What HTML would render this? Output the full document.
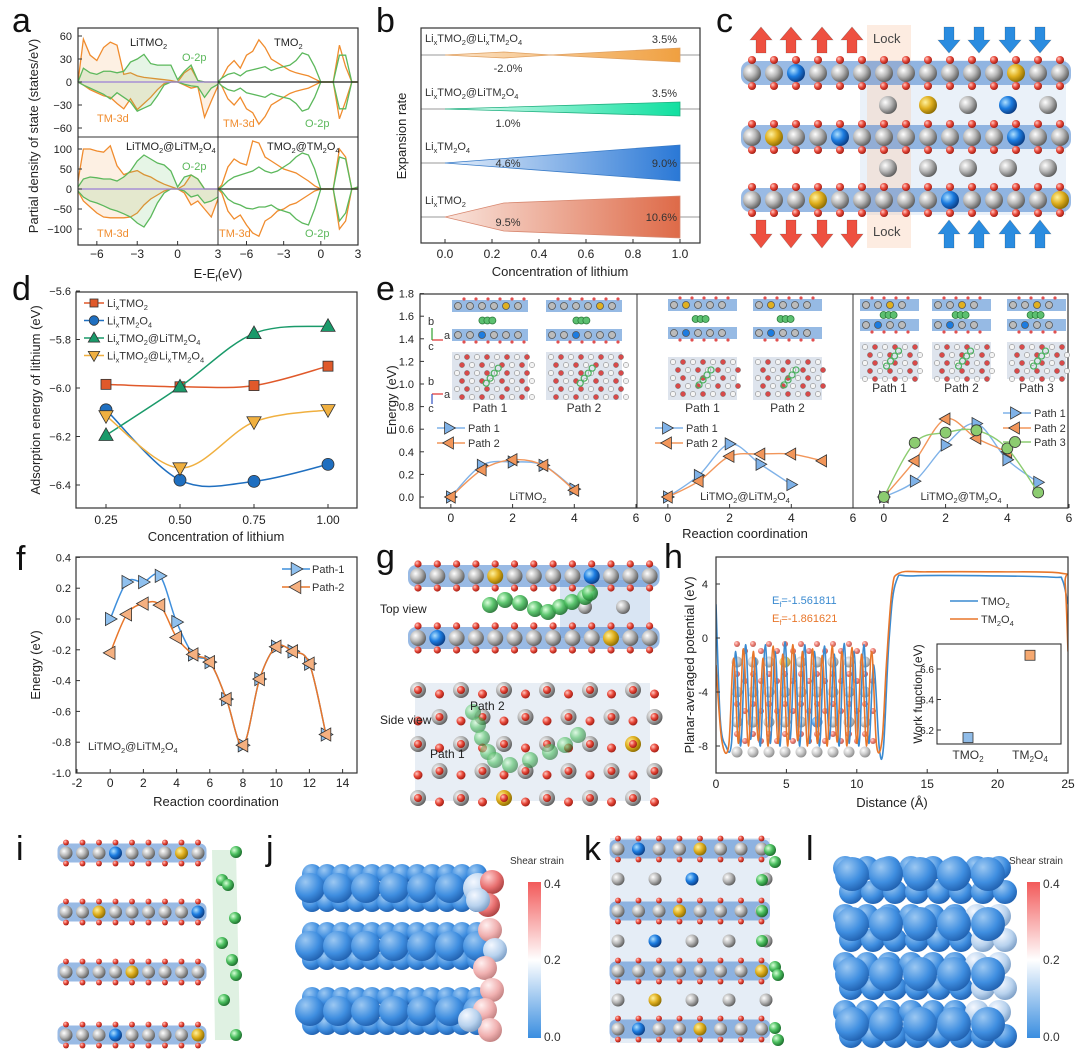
<!DOCTYPE html>
<html><head><meta charset="utf-8"><style>
html,body{margin:0;padding:0;background:#fff;}
svg{display:block;font-family:"Liberation Sans",sans-serif;}
</style></head><body>
<svg id="fig" width="1080" height="1062" viewBox="0 0 1080 1062" xmlns="http://www.w3.org/2000/svg">
<defs>
<radialGradient id="g_grey" cx="35%" cy="35%" r="70%"><stop offset="0" stop-color="#ffffff"/><stop offset="0.5" stop-color="#b8b8b8"/><stop offset="1" stop-color="#5a5a5a"/></radialGradient>
<radialGradient id="g_red" cx="35%" cy="35%" r="70%"><stop offset="0" stop-color="#ffc8c0"/><stop offset="0.5" stop-color="#e8483a"/><stop offset="1" stop-color="#9a1a10"/></radialGradient>
<radialGradient id="g_blue" cx="35%" cy="35%" r="70%"><stop offset="0" stop-color="#aee0ff"/><stop offset="0.5" stop-color="#1c7ce0"/><stop offset="1" stop-color="#0a3a80"/></radialGradient>
<radialGradient id="g_yellow" cx="35%" cy="35%" r="70%"><stop offset="0" stop-color="#fff2a0"/><stop offset="0.5" stop-color="#e0b020"/><stop offset="1" stop-color="#8a6a00"/></radialGradient>
<radialGradient id="g_green" cx="35%" cy="35%" r="70%"><stop offset="0" stop-color="#d8ffd8"/><stop offset="0.5" stop-color="#4cc060"/><stop offset="1" stop-color="#1a6a2a"/></radialGradient>
<radialGradient id="g_sb" cx="35%" cy="30%" r="75%"><stop offset="0" stop-color="#9cc8f2"/><stop offset="0.6" stop-color="#3f8ee0"/><stop offset="1" stop-color="#1f5fae"/></radialGradient>
<radialGradient id="g_sl" cx="35%" cy="30%" r="75%"><stop offset="0" stop-color="#f4f8ff"/><stop offset="0.6" stop-color="#b8d2ee"/><stop offset="1" stop-color="#7a9cc4"/></radialGradient>
<radialGradient id="g_sr" cx="35%" cy="30%" r="75%"><stop offset="0" stop-color="#ffd0d0"/><stop offset="0.6" stop-color="#e87070"/><stop offset="1" stop-color="#a84040"/></radialGradient>
<radialGradient id="g_sp" cx="35%" cy="30%" r="75%"><stop offset="0" stop-color="#fff0f0"/><stop offset="0.6" stop-color="#f0b0b0"/><stop offset="1" stop-color="#c08080"/></radialGradient>
<linearGradient id="b_or" x1="0" x2="1"><stop offset="0" stop-color="#fbe3c8"/><stop offset="1" stop-color="#f0a040"/></linearGradient>
<linearGradient id="b_gr" x1="0" x2="1"><stop offset="0" stop-color="#e0faf0"/><stop offset="1" stop-color="#10e0a0"/></linearGradient>
<linearGradient id="b_bl" x1="0" x2="1"><stop offset="0" stop-color="#e4eefa"/><stop offset="1" stop-color="#2a78d6"/></linearGradient>
<linearGradient id="b_rd" x1="0" x2="1"><stop offset="0" stop-color="#f9e4dc"/><stop offset="1" stop-color="#de6a48"/></linearGradient>
<linearGradient id="cbar" x1="0" x2="0" y1="0" y2="1"><stop offset="0" stop-color="#f25a5a"/><stop offset="0.5" stop-color="#ffffff"/><stop offset="1" stop-color="#3a8ee0"/></linearGradient>
<clipPath id="clipH"><rect x="716" y="557" width="352" height="216"/></clipPath>
</defs>
<g id="letters" font-size="34" fill="#111">
<text x="12" y="32">a</text>
<text x="376" y="32">b</text>
<text x="716" y="32">c</text>
<text x="12" y="300">d</text>
<text x="376" y="300">e</text>
<text x="16" y="570">f</text>
<text x="376" y="568">g</text>
<text x="664" y="568">h</text>
<text x="16" y="860">i</text>
<text x="266" y="860">j</text>
<text x="584" y="860">k</text>
<text x="806" y="860">l</text>
</g>
<g id="pa"></g>
<g id="pb"></g>
<g id="pc"></g>
<g id="pd"></g>
<g id="pe"></g>
<g id="pf"></g>
<g id="pg"></g>
<g id="ph"></g>
<g id="pi"></g>
<g id="pj"></g>
<g id="pk"></g>
<g id="pl"></g>
</svg>
<script>
// ---------- data ----------
const aXL=[-7.4,-7,-6.5,-6,-5.5,-5,-4.5,-4,-3.5,-3,-2.5,-2,-1.5,-1,-0.5,0,0.5,1,1.5,2,2.5,3];
const aXR=[-8.3,-8,-7.5,-7,-6.5,-6,-5.5,-5,-4.5,-4,-3.5,-3,-2.5,-2,-1.5,-1,-0.5,0,0.5,1,1.5,2,2.5,3];
const a1UpTM=[0,56,35,28,45,52,48,10,12,8,6,5,4,3,2,0,12,18,2,0,0,0];
const a1UpO=[0,18,12,10,14,14,12,14,26,30,36,24,22,22,22,3,14,22,2,0,0,0];
const a1DnTM=[0,-4,-10,-14,-18,-20,-28,-35,-22,-36,-28,-20,-10,-2,0,0,-4,-8,-6,-46,-25,-5];
const a1DnO=[0,-4,-8,-12,-16,-22,-14,-20,-26,-38,-34,-30,-18,-4,0,0,-3,-5,-6,-20,-8,-3];
const a2UpTM=[0,5,20,28,18,35,40,55,45,30,25,20,15,12,10,8,4,0,0,0,48,20,0,0];
const a2UpO=[0,5,10,12,8,14,16,18,20,15,18,20,22,28,38,35,20,0,0,0,35,35,0,0];
const a2DnTM=[0,-5,-22,-30,-20,-35,-40,-55,-45,-30,-25,-20,-15,-12,-10,-8,-4,0,0,0,-48,-25,0,0];
const a2DnO=[0,-5,-10,-12,-8,-14,-16,-18,-20,-15,-18,-20,-22,-28,-38,-35,-20,0,0,0,-35,-35,0,0];
const a3UpTM=[20,100,100,95,92,108,58,36,42,46,36,30,20,12,6,0,10,35,25,0,0,0];
const a3UpO=[5,25,30,28,25,25,20,30,45,70,85,75,65,60,45,5,30,35,25,0,0,0];
const a3DnTM=[-5,-30,-45,-60,-70,-72,-72,-72,-70,-60,-40,-25,-15,-5,0,0,-10,-40,-30,-50,-70,-25];
const a3DnO=[-5,-20,-30,-35,-42,-50,-55,-62,-70,-85,-95,-70,-35,-10,0,0,-5,-20,-15,-35,-30,-20];
const a4UpTM=[0,10,55,75,65,60,120,115,80,70,60,50,45,40,30,20,8,0,0,0,100,80,0,5];
const a4UpO=[0,5,20,30,35,40,45,55,45,40,45,55,65,80,90,85,50,0,0,0,80,75,0,5];
const a4DnTM=[0,-10,-55,-75,-65,-90,-110,-118,-80,-70,-55,-50,-40,-35,-25,-15,-5,0,0,0,-100,-80,0,0];
const a4DnO=[0,-5,-25,-35,-40,-48,-50,-45,-45,-40,-50,-55,-60,-75,-85,-90,-50,0,0,0,-80,-60,0,0];
const bRows=["Li_xTMO_2@Li_xTM_2O_4","Li_xTMO_2@LiTM_2O_4","Li_xTM_2O_4","Li_xTMO_2"];
const bConc=[[0,0.25,0.45,1],[0,1],[0,1],[0,0.25,1]];
const bHalf=[[0,3,0,7],[0,7],[0,18],[0,14,21]];
const bLow=["-2.0%","1.0%","4.6%","9.5%"];
const bHigh=["3.5%","3.5%","9.0%","10.6%"];
const bTicks=[0,0.2,0.4,0.6,0.8,1.0];
const dConc=[0.25,0.5,0.75,1.0];
const dTMO2=[-5.985,-5.995,-5.99,-5.91];
const dTM2O4=[-6.09,-6.38,-6.385,-6.315];
const dAtLi=[-6.195,-5.995,-5.775,-5.745];
const dAtLix=[-6.115,-6.33,-6.14,-6.09];
const dYTicks=[-5.6,-5.8,-6.0,-6.2,-6.4];
const e1P1=[0,0.28,0.31,0.28,0.07];
const e1P2=[0,0.24,0.33,0.28,0.06];
const e2P1=[0,0.19,0.47,0.29,0.11];
const e2P2=[0,0.14,0.36,0.38,0.38,0.32];
const e3P1=[0,0.14,0.46,0.65,0.33,0.13];
const e3P2=[0,0.32,0.69,0.52,0.40];
const e3P3=[0,0.48,0.57,0.59,0.43,0.04];
const eYTicks=[0,0.2,0.4,0.6,0.8,1.0,1.2,1.4,1.6,1.8];
const fP1=[0,0.24,0.24,0.28,-0.02,-0.23,-0.28,-0.52,-0.82,-0.39,-0.18,-0.21,-0.29,-0.75];
const fP2=[-0.22,0.03,0.10,0.09,-0.12,-0.23,-0.28,-0.52,-0.82,-0.39,-0.18,-0.21,-0.29,-0.75];
const fYTicks=[0.4,0.2,0,-0.2,-0.4,-0.6,-0.8,-1.0];
const fXTicks=[-2,0,2,4,6,8,10,12,14];
const hxB=[0,0.3,0.7,1.1,1.4,1.75,2.1,2.45,2.8,3.15,3.5,3.85,4.2,4.55,4.9,5.25,5.6,5.95,6.3,6.65,7.0,7.35,7.7,8.05,8.4,8.75,9.1,9.45,9.8,10.15,10.5,10.85,11.2,11.6,11.9,12.3,12.8,14,20,24,24.6,25];
const hyB=[2.5,-6,-8,-7.8,-1,-8,-0.5,-7.5,-1.5,-8,-0.5,-7.8,-1,-8,-0.3,-7.5,-1.2,-8,-0.5,-7.8,-1,-8,-0.6,-7.5,-1.2,-8,-0.4,-7.8,-1,-8,-0.5,-7.8,-2,-8.2,-8,0,4.2,4.6,4.6,4.5,4.3,2.5];
const hxO=[0,0.4,0.9,1.25,1.6,1.95,2.3,2.65,3.0,3.35,3.7,4.05,4.4,4.75,5.1,5.45,5.8,6.15,6.5,6.85,7.2,7.55,7.9,8.25,8.6,8.95,9.3,9.65,10.0,10.35,10.7,11.05,11.4,11.8,12.1,12.5,13,15,20,24.5,24.8,25];
const hyO=[-2,-7.5,-8,-1.5,-7.8,-0.8,-8,-1,-7.6,-1.5,-8,-0.6,-7.8,-1.2,-8,-0.5,-7.6,-1,-8,-0.8,-7.8,-1.3,-8,-0.6,-7.7,-1,-8,-0.7,-7.8,-1.2,-8,-1,-7.9,-7.5,-2,3.5,4.8,4.9,4.9,4.8,4,-1];
const hCats=["TMO_2","TM_2O_4"];
const hWork=[6.15,6.69];

// ---------- helpers ----------
const NS='http://www.w3.org/2000/svg';
function mk(t,a,p){const e=document.createElementNS(NS,t);for(const k in a)e.setAttribute(k,a[k]);p.appendChild(e);return e;}
function lbl(s,x,y,size,fill,anchor,p,rot){
  const t=mk('text',{x:x,y:y,'font-size':size,fill:fill||'#222','text-anchor':anchor||'start'},p);
  if(rot)t.setAttribute('transform','rotate('+rot+' '+x+' '+y+')');
  let i=0,buf='';
  const flush=()=>{if(buf){const s1=mk('tspan',{},t);s1.textContent=buf;buf='';}};
  while(i<s.length){
    if(s[i]==='_'&&i+1<s.length){flush();const sb=mk('tspan',{'font-size':size*0.68,dy:size*0.25},t);sb.textContent=s[i+1];const bk=mk('tspan',{dy:-size*0.25},t);bk.textContent='\u200b';i+=2;}
    else{buf+=s[i];i++;}
  }
  flush();
  
  
  return t;
}
function smooth(pts){
  let d='M'+pts[0][0]+','+pts[0][1];
  for(let i=0;i<pts.length-1;i++){
    const p0=pts[i-1]||pts[i],p1=pts[i],p2=pts[i+1],p3=pts[i+2]||p2;
    const c1=[p1[0]+(p2[0]-p0[0])/6,p1[1]+(p2[1]-p0[1])/6];
    const c2=[p2[0]-(p3[0]-p1[0])/6,p2[1]-(p3[1]-p1[1])/6];
    d+=' C'+c1[0]+','+c1[1]+' '+c2[0]+','+c2[1]+' '+p2[0]+','+p2[1];
  }
  return d;
}
function ball(x,y,r,col,p){
  const c=mk('circle',{cx:x,cy:y,r:r,fill:'url(#g_'+col+')'},p);
  
  
  return c;
}
function marker(type,x,y,s,fill,p){
  let e;
  if(type==='sq')e=mk('rect',{x:x-s,y:y-s,width:2*s,height:2*s},p);
  else if(type==='ci')e=mk('circle',{cx:x,cy:y,r:s},p);
  else{
    let pts;
    if(type==='up')pts=[[x,y-s*1.15],[x+s*1.1,y+s*0.8],[x-s*1.1,y+s*0.8]];
    if(type==='dn')pts=[[x,y+s*1.15],[x+s*1.1,y-s*0.8],[x-s*1.1,y-s*0.8]];
    if(type==='rt')pts=[[x+s*1.15,y],[x-s*0.8,y-s*1.1],[x-s*0.8,y+s*1.1]];
    if(type==='lt')pts=[[x-s*1.15,y],[x+s*0.8,y-s*1.1],[x+s*0.8,y+s*1.1]];
    e=mk('polygon',{points:pts.map(q=>q.join(',')).join(' ')},p);
  }
  e.setAttribute('fill',fill);e.setAttribute('stroke','#333');e.setAttribute('stroke-width','0.8');
  
  
  return e;
}
function tick(x1,y1,x2,y2,p){const l=mk('line',{x1:x1,y1:y1,x2:x2,y2:y2,stroke:'#333','stroke-width':1},p);return l;}
function frame(x,y,w,h,p){const r=mk('rect',{x:x,y:y,width:w,height:h,fill:'none',stroke:'#333','stroke-width':1.2},p);return r;}
function layer(x0,n,dx,y,r,p,special,bandCol){
  const b=mk('rect',{x:x0-r-2,y:y-r-3,width:(n-1)*dx+2*r+4,height:2*r+6,rx:r,fill:bandCol||'rgba(70,130,205,0.55)'},p);
  
  
  for(let i=0;i<n;i++){ball(x0+i*dx,y-r-4,r*0.45,'red',p);ball(x0+i*dx,y+r+4,r*0.45,'red',p);}
  for(let i=0;i<n;i++){ball(x0+i*dx,y,r,(special&&special[i])||'grey',p);}
}

// ---------- panel a ----------
(function(){
  const g=document.getElementById('pa');
  const XL=v=>78+(v+7.4)/10.4*140, XR=v=>218+(v+8.3)/11.3*140;
  const YT=v=>82-v*23/30, YB=v=>189-v*20/50;
  const subs=[[XL,YT,aXL,a1UpTM,a1UpO,a1DnTM,a1DnO,'#9b7fd6',true],[XR,YT,aXR,a2UpTM,a2UpO,a2DnTM,a2DnO,'#222',false],[XL,YB,aXL,a3UpTM,a3UpO,a3DnTM,a3DnO,'#9b7fd6',true],[XR,YB,aXR,a4UpTM,a4UpO,a4DnTM,a4DnO,'#222',false]];
  subs.forEach(s=>{
    const [X,Y,xs]=s;
    [[s[3],'#f08c2e','rgba(245,160,80,0.16)'],[s[4],'#5cb85c','rgba(100,190,100,0.16)'],[s[5],'#f08c2e','rgba(245,160,80,0.16)'],[s[6],'#5cb85c','rgba(100,190,100,0.16)']].forEach(c=>{
      const pts=xs.map((v,i)=>X(v)+','+Y(c[0][i]));
      if(s[8]){
        const ar=mk('polygon',{points:X(xs[0])+','+Y(0)+' '+pts.join(' ')+' '+X(xs[xs.length-1])+','+Y(0),fill:c[2]},g);
        
        
      }
      const pl=mk('polyline',{points:pts.join(' '),fill:'none',stroke:c[1],'stroke-width':1.3},g);
      
      
    });
    const z=mk('line',{x1:X(xs[0]),x2:X(3),y1:Y(0),y2:Y(0),stroke:s[7],'stroke-width':1.2},g);
    
    
  });
  frame(78,28,280,217,g);
  tick(218,28,218,245,g);tick(78,137,358,137,g);
  [60,30,0,-30,-60].forEach(v=>{tick(78,YT(v),82,YT(v),g);lbl(v<0?'\u2212'+(-v):''+v,72,YT(v)+4,11,'#222','end',g);});
  [100,50,0,-50,-100].forEach(v=>{tick(78,YB(v),82,YB(v),g);lbl(v<0?'\u2212'+(-v):''+v,72,YB(v)+4,11,'#222','end',g);});
  [-6,-3,0,3].forEach(v=>{tick(XL(v),245,XL(v),241,g);lbl(v<0?'\u2212'+(-v):''+v,XL(v),258,12,'#222','middle',g);});
  [-6,-3,0,3].forEach(v=>{tick(XR(v),245,XR(v),241,g);lbl(v<0?'\u2212'+(-v):''+v,XR(v),258,12,'#222','middle',g);});
  lbl('E-E_f(eV)',218,278,13,'#222','middle',g);
  lbl('Partial density of state (states/eV)',38,136,13,'#222','middle',g,-90);
  lbl('LiTMO_2',130,46,11,'#222','start',g);
  lbl('O-2p',182,61,11,'#5cb85c','start',g);
  lbl('TM-3d',97,122,11,'#f08c2e','start',g);
  lbl('TMO_2',274,46,11,'#222','start',g);
  lbl('TM-3d',223,127,11,'#f08c2e','start',g);
  lbl('O-2p',305,127,11,'#5cb85c','start',g);
  lbl('LiTMO_2@LiTM_2O_4',126,150,11,'#222','start',g);
  lbl('O-2p',182,170,11,'#5cb85c','start',g);
  lbl('TM-3d',97,237,11,'#f08c2e','start',g);
  lbl('TMO_2@TM_2O_4',267,150,11,'#222','start',g);
  lbl('TM-3d',219,237,11,'#f08c2e','start',g);
  lbl('O-2p',305,237,11,'#5cb85c','start',g);
})();

// ---------- panel b ----------
(function(){
  const g=document.getElementById('pb');
  const X=v=>445+v*235;
  const cy=[55,109,163,217];
  const fills=['url(#b_or)','url(#b_gr)','url(#b_bl)','url(#b_rd)'];
  const strokes=['#e0a060','#20b080','#3a7cc8','#d88870'];
  bRows.forEach((name,r)=>{
    const l=mk('line',{x1:421,x2:700,y1:cy[r],y2:cy[r],stroke:'#999','stroke-width':1},g);
    
    
    const top=bConc[r].map((c,i)=>X(c)+','+(cy[r]-bHalf[r][i]));
    const bot=bConc[r].map((c,i)=>X(c)+','+(cy[r]+bHalf[r][i])).reverse();
    const pg=mk('polygon',{points:top.concat(bot).join(' '),fill:fills[r],stroke:strokes[r],'stroke-width':0.8},g);
    
    
    lbl(name,425,cy[r]-13,11,'#333','start',g);
    lbl(bHigh[r],677,cy[r]-(r>1?-4:12),11,'#333','end',g);
    lbl(bLow[r],508,cy[r]+(r===0?17:r===1?18:r===2?4:9),11,'#333','middle',g);
  });
  frame(421,28,279,215,g);
  bTicks.forEach(v=>{tick(X(v),243,X(v),239,g);lbl(v.toFixed(1),X(v),258,12,'#222','middle',g);});
  lbl('Concentration of lithium',560,276,13,'#222','middle',g);
  lbl('Expansion rate',406,136,13,'#222','middle',g,-90);
})();

// ---------- panel c ----------
(function(){
  const g=document.getElementById('pc');
  mk('rect',{x:860,y:60,width:206,height:155,fill:'rgba(170,200,230,0.25)'},g);
  const lk=mk('rect',{x:867,y:25,width:44,height:223,fill:'rgba(250,200,170,0.35)'},g);
  
  
  const sp=[null,null,'blue',null,null,null,null,null,null,null,null,null,'yellow',null,null];
  layer(752,15,22,73,9,g,sp);
  layer(752,15,22,137,9,g,[null,'yellow',null,null,'blue',null,null,null,null,null,null,null,'blue']);
  layer(752,15,22,200,9,g,[null,null,null,'yellow',null,null,null,null,null,'blue',null,null,null,null,'yellow']);
  const mid1=['grey','yellow','grey','blue','grey'],mid2=['grey','grey','grey','grey','grey'];
  mid1.forEach((c,i)=>ball(888+i*40,105,9,c,g));
  mid2.forEach((c,i)=>ball(888+i*40,168,9,c,g));
  function arrow(x,y0,y1,col){
    const d=y1>y0?1:-1;const L=Math.abs(y1-y0);
    const pts=[[x-5,y0],[x+5,y0],[x+5,y0+d*L*0.5],[x+11,y0+d*L*0.5],[x,y1],[x-11,y0+d*L*0.5],[x-5,y0+d*L*0.5]];
    const a=mk('polygon',{points:pts.map(q=>q.join(',')).join(' '),fill:col,stroke:'rgba(0,0,0,0.25)','stroke-width':0.6},g);
    
    
  }
  [761,791,822,852].forEach(x=>{arrow(x,53,27,'#ee5040');arrow(x,220,248,'#ee5040');});
  [949,979,1010,1040].forEach(x=>{arrow(x,27,53,'#2a8ce0');arrow(x,248,220,'#2a8ce0');});
  lbl('Lock',873,43,13,'#444','start',g);
  lbl('Lock',873,236,13,'#444','start',g);
})();

// ---------- panel d ----------
(function(){
  const g=document.getElementById('pd');
  const X=v=>106+(v-0.25)*296, Y=v=>388-(v+6.0)*242.5;
  frame(76,292,281,216,g);
  dYTicks.forEach(v=>{tick(76,Y(v),80,Y(v),g);lbl('\u2212'+(-v).toFixed(1),71,Y(v)+4,11,'#222','end',g);});
  dConc.forEach(v=>{tick(X(v),508,X(v),504,g);lbl(v.toFixed(2),X(v),524,12,'#222','middle',g);});
  lbl('Concentration of lithium',216,541,13,'#222','middle',g);
  lbl('Adsorption energy of lithium (eV)',40,400,13,'#222','middle',g,-90);
  const ser=[[dTMO2,'#e0592a','sq','Li_xTMO_2',5],[dTM2O4,'#1f6fc0','ci','Li_xTM_2O_4',6],[dAtLi,'#1a9a6a','up','Li_xTMO_2@LiTM_2O_4',6.5],[dAtLix,'#f0b040','dn','Li_xTMO_2@Li_xTM_2O_4',6.5]];
  ser.forEach((s,k)=>{
    const pts=dConc.map((c,i)=>[X(c),Y(s[0][i])]);
    const p=mk('path',{d:smooth(pts),fill:'none',stroke:s[1],'stroke-width':1.5},g);
    
    
    pts.forEach(q=>marker(s[2],q[0],q[1],s[4],s[1],g));
    const ly=303+k*17.5;
    const ll=mk('line',{x1:84,x2:104,y1:ly,y2:ly,stroke:s[1],'stroke-width':1.5},g);
    
    
    marker(s[2],94,ly,s[4]*0.8,s[1],g);
    lbl(s[3],107,ly+4,11,'#333','start',g);
  });
})();

// ---------- panel e ----------
(function(){
  const g=document.getElementById('pe');
  const lefts=[420,637,853];
  const Y=v=>497-v*113;
  frame(420,294,648,214,g);
  tick(637,294,637,508,g);tick(853,294,853,508,g);
  eYTicks.forEach(v=>{tick(420,Y(v),424,Y(v),g);lbl(v.toFixed(1),414,Y(v)+4,11,'#222','end',g);});
  const subsData=[[[e1P1,'#7fb2e8','rt','Path 1'],[e1P2,'#f2965a','lt','Path 2']],[[e2P1,'#7fb2e8','rt','Path 1'],[e2P2,'#f2965a','lt','Path 2']],[[e3P1,'#7fb2e8','rt','Path 1'],[e3P2,'#f2965a','lt','Path 2'],[e3P3,'#8ccc70','ci','Path 3']]];
  const titles=['LiTMO_2','LiTMO_2@LiTM_2O_4','LiTMO_2@TM_2O_4'];
  const legX=[437,655,1003],legY=[[428,443],[428,443],[413,428,442]];
  subsData.forEach((sd,k)=>{
    const X=v=>lefts[k]+(v+1)*30.86;
    [0,2,4,6].forEach(v=>{tick(X(v),508,X(v),504,g);lbl(''+v,X(v),522,12,'#222','middle',g);});
    sd.forEach((s,j)=>{
      const pts=s[0].map((v,i)=>[X(i),Y(v)]);
      const p=mk('path',{d:smooth(pts),fill:'none',stroke:s[1],'stroke-width':1.4},g);
      
      
      pts.forEach(q=>marker(s[2],q[0],q[1],5.5,s[1],g));
      const ly=legY[k][j];
      const ll=mk('line',{x1:legX[k],x2:legX[k]+28,y1:ly,y2:ly,stroke:s[1],'stroke-width':1.4},g);
      
      
      marker(s[2],legX[k]+12,ly,5.5,s[1],g);
      lbl(s[3],legX[k]+31,ly+4,11,'#333','start',g);
    });
    lbl(titles[k],lefts[k]+108,500,11,'#333','middle',g);
  });
  lbl('Reaction coordination',745,538,13,'#222','middle',g);
  lbl('Energy (eV)',396,400,13,'#222','middle',g,-90);
  function topView(x,y,w,h,ga,gb){
    mk('rect',{x:x,y:y+2,width:w,height:12,fill:'rgba(80,140,210,0.6)'},g);
    mk('rect',{x:x,y:y+h-14,width:w,height:12,fill:'rgba(80,140,210,0.6)'},g);
    const n=Math.floor(w/12);
    for(let i=0;i<n;i++){
      mk('circle',{cx:x+6+i*12,cy:y+8,r:3.5,fill:i===ga?'#e0b020':'#bbb',stroke:'#555','stroke-width':0.8},g);
      mk('circle',{cx:x+6+i*12,cy:y+h-8,r:3.5,fill:i===gb?'#1c7ce0':'#bbb',stroke:'#555','stroke-width':0.8},g);
      mk('circle',{cx:x+12+i*12,cy:y+1,r:1.6,fill:'#e05050'},g);
      mk('circle',{cx:x+12+i*12,cy:y+h-1,r:1.6,fill:'#e05050'},g);
    }
    for(let i=0;i<3;i++)mk('circle',{cx:x+w*0.4+i*5,cy:y+h/2,r:3.5,fill:'#5cc070',stroke:'#2a7a3a','stroke-width':0.8},g);
  }
  function sideView(x,y,w,h){
    mk('rect',{x:x,y:y,width:w,height:h,fill:'rgba(200,210,225,0.6)'},g);
    for(let r=0;r*8<h-4;r++)for(let c=0;c*10<w-4;c++){
      mk('circle',{cx:x+5+c*10+(r%2)*5,cy:y+5+r*8,r:2.6,fill:(r+c)%2?'#d84a4a':'#f4f4f4',stroke:'#777','stroke-width':0.5},g);
    }
    for(let i=0;i<4;i++)mk('circle',{cx:x+w*0.45+i*4,cy:y+h*0.65-i*5,r:3,fill:'none',stroke:'#4cb060','stroke-width':1.2},g);
  }
  [[452,76],[546,76]].forEach((b,i)=>{topView(b[0],298,b[1],45,4,2);sideView(b[0],352,b[1],48);lbl('Path '+(i+1),b[0]+b[1]/2,412,12,'#333','middle',g);});
  [[668,69],[753,69]].forEach((b,i)=>{topView(b[0],297,b[1],44,1,1);sideView(b[0],357,b[1],43);lbl('Path '+(i+1),b[0]+b[1]/2,412,12,'#333','middle',g);});
  [[860,59],[932,59],[1007,59]].forEach((b,i)=>{topView(b[0],297,b[1],36,2,1);sideView(b[0],342,b[1],37);lbl('Path '+(i+1),b[0]+b[1]/2,392,12,'#333','middle',g);});
  lbl('b',431,325,11,'#333','middle',g);lbl('a',444,339,11,'#333','start',g);lbl('c',431,350,11,'#333','middle',g);
  mk('line',{x1:432,y1:340,x2:443,y2:340,stroke:'#e03030','stroke-width':1.2},g);
  mk('line',{x1:432,y1:340,x2:432,y2:328,stroke:'#30a030','stroke-width':1.2},g);
  lbl('b',431,385,11,'#333','middle',g);lbl('a',444,398,11,'#333','start',g);lbl('c',431,412,11,'#333','middle',g);
  mk('line',{x1:432,y1:394,x2:443,y2:394,stroke:'#e03030','stroke-width':1.2},g);
  mk('line',{x1:432,y1:394,x2:432,y2:404,stroke:'#3050c0','stroke-width':1.2},g);
})();

// ---------- panel f ----------
(function(){
  const g=document.getElementById('pf');
  const X=v=>77+(v+2)*16.6, Y=v=>619-v*154;
  frame(76,557,281,216,g);
  fYTicks.forEach(v=>{tick(76,Y(v),80,Y(v),g);lbl(v.toFixed(1),71,Y(v)+4,11,'#222','end',g);});
  fXTicks.forEach(v=>{tick(X(v),773,X(v),769,g);lbl(''+v,X(v),787,12,'#222','middle',g);});
  lbl('Reaction coordination',216,806,13,'#222','middle',g);
  lbl('Energy (eV)',40,665,13,'#222','middle',g,-90);
  [[fP1,'#3f8fdc','#8fc0ee','rt','Path-1'],[fP2,'#e8762a','#f5b080','lt','Path-2']].forEach((s,k)=>{
    const pts=s[0].map((v,i)=>[X(i),Y(v)]);
    const p=mk('path',{d:smooth(pts),fill:'none',stroke:s[1],'stroke-width':1.5},g);
    
    
    pts.forEach(q=>marker(s[3],q[0],q[1],6,s[2],g));
    const ly=569+k*18;
    const ll=mk('line',{x1:282,x2:310,y1:ly,y2:ly,stroke:s[1],'stroke-width':1.5},g);
    
    
    marker(s[3],296,ly,6,s[2],g);
    lbl(s[4],312,ly+4,11,'#333','start',g);
  });
  lbl('LiTMO_2@LiTM_2O_4',88,750,11,'#333','start',g);
})();

// ---------- panel g ----------
(function(){
  const g=document.getElementById('pg');
  mk('rect',{x:560,y:580,width:90,height:58,fill:'rgba(160,190,225,0.4)'},g);
  layer(418,13,19.3,576,8,g,[null,null,null,null,'yellow',null,null,null,null,'blue']);
  layer(418,13,19.3,638,8,g,[null,'blue',null,null,null,null,null,null,null,null,'yellow']);
  ball(585,607,7,'grey',g);ball(623,607,7,'grey',g);
  const tube=[[490,605],[505,600],[520,603],[535,609],[548,612],[560,607],[572,602],[585,597],[590,593]];
  tube.forEach(q=>{const c=ball(q[0],q[1],8,'green',g);c.setAttribute('opacity','0.9');});
  lbl('Top view',380,613,12,'#222','start',g);
  mk('rect',{x:415,y:683,width:235,height:118,fill:'rgba(190,205,225,0.35)'},g);
  for(let r=0;r<5;r++)for(let c=0;c<12;c++){
    const x=418+c*21.5,y=690+r*27;
    if((r+c)%2===0){ball(x,y,8,(r===1&&(c===2||c===8))?'blue':(r===2&&c===10)||(r===4&&c===4)?'yellow':'grey',g);ball(x,y,4,'red',g);}
    else ball(x,y+4,4.5,'red',g);
  }
  const p2=[[473,712],[478,725],[482,738],[488,752],[495,760],[510,765],[530,760],[550,752],[565,745],[578,735]];
  p2.forEach(q=>{const c=ball(q[0],q[1],8,'green',g);c.setAttribute('opacity','0.6');});
  lbl('Side view',380,724,12,'#222','start',g);
  lbl('Path 2',470,710,12,'#222','start',g);
  lbl('Path 1',430,758,12,'#222','start',g);
})();

// ---------- panel h ----------
(function(){
  const g=document.getElementById('ph');
  const X=v=>716+v*14.08, Y=v=>638-v*13.5;
  const ov=mk('g',{opacity:0.7},g);
  for(let r=0;r<4;r++)for(let c=0;c<9;c++){
    const x=737+c*16,y=644+r*30;
    ball(x,y,3,'red',ov);ball(x+8,y+7,3,'red',ov);
    ball(x,y+18,5.5,(r===0&&c===3)?'yellow':(r===2&&c===5)?'blue':'grey',ov);
  }
  const cg=mk('g',{'clip-path':'url(#clipH)'},g);
  [[hxB,hyB,'#3a8ad0'],[hxO,hyO,'#e8762a']].forEach(s=>{
    const pts=s[0].map((v,i)=>[X(v),Y(s[1][i])]);
    const p=mk('path',{d:smooth(pts),fill:'none',stroke:s[2],'stroke-width':1.6},cg);
    
    
  });
  frame(716,557,352,216,g);
  [4,0,-4,-8].forEach(v=>{tick(716,Y(v),720,Y(v),g);lbl(''+v,708,Y(v)+4,11,'#222','end',g);});
  [0,5,10,15,20,25].forEach(v=>{tick(X(v),773,X(v),769,g);lbl(''+v,X(v),788,12,'#222','middle',g);});
  lbl('Distance (\u00c5)',892,807,13,'#222','middle',g);
  lbl('Planar-averaged potential (eV)',694,665,13,'#222','middle',g,-90);
  lbl('E_f=-1.561811',772,604,11,'#3a8ad0','start',g);
  lbl('E_f=-1.861621',772,622,11,'#e8762a','start',g);
  [['TMO_2','#3a8ad0',601],['TM_2O_4','#e8762a',619]].forEach(s=>{
    const l=mk('line',{x1:950,x2:978,y1:s[2],y2:s[2],stroke:s[1],'stroke-width':1.6},g);
    
    
    lbl(s[0],981,s[2]+4,11,'#333','start',g);
  });
  const bg=mk('rect',{x:937,y:644,width:124,height:100,fill:'#fff',stroke:'#333','stroke-width':1.1},g);
  
  
  const YI=v=>669-(v-6.6)*152.5;
  const cx=[968,1030];
  [6.2,6.4,6.6].forEach(v=>{tick(937,YI(v),941,YI(v),g);lbl(v.toFixed(1),934,YI(v)+4,10,'#222','end',g);});
  hCats.forEach((c,i)=>{
    const r=mk('rect',{x:cx[i]-5,y:YI(hWork[i])-5,width:10,height:10,fill:i?'#f5a870':'#90bce8',stroke:'#333','stroke-width':0.8},g);
    
    
    lbl(c,cx[i],759,12,'#333','middle',g);
  });
  lbl('Work function (eV)',922,694,12,'#222','middle',g,-90);
})();

// ---------- panel i ----------
(function(){
  const g=document.getElementById('pi');
  mk('polygon',{points:'212,850 236,850 240,1040 215,1040',fill:'rgba(150,210,160,0.3)'},g);
  const rows=[853,912,972,1035];
  const sp=[[null,null,null,'blue',null,null,null,'yellow'],[null,null,'yellow',null,null,null,null,null,'blue'],[null,null,null,null,'yellow'],[null,null,null,'blue',null,null,null,null,'yellow']];
  rows.forEach((y,k)=>layer(66,9,16.5,y,6.5,g,sp[k]));
  [[236,852],[222,880],[228,885],[235,918],[222,943],[232,960],[236,975],[224,1000],[236,1035]].forEach(q=>ball(q[0],q[1],6,'green',g));
})();

// ---------- panel k ----------
(function(){
  const g=document.getElementById('pk');
  mk('rect',{x:610,y:838,width:160,height:205,fill:'rgba(170,195,225,0.3)'},g);
  const rows=[849,911,971,1029];
  const sp=[[null,'blue',null,null,'yellow'],[null,null,null,'yellow'],[null,null,null,null,null,null,null,'yellow'],[null,'blue',null,null,'yellow']];
  rows.forEach((y,k)=>layer(618,8,20.5,y,6.5,g,sp[k]));
  [[879,[null,null,'blue',null,null]],[941,[null,'blue',null,null,null]],[1000,[null,'yellow',null,null,null]]].forEach(r=>{
    r[1].forEach((c,i)=>ball(618+i*37,r[0],6.5,c||'grey',g));
  });
  [[770,850],[775,862],[762,880],[762,911],[762,941],[775,967],[778,975],[775,1028],[778,1040]].forEach(q=>ball(q[0],q[1],6,'green',g));
})();

// ---------- panels j & l ----------
function colorbar(g,x){
  const r=mk('rect',{x:x,y:882,width:13,height:156,fill:'url(#cbar)'},g);
  
  
  lbl('0.4',x+16,888,12,'#333','start',g);
  lbl('0.2',x+16,964,12,'#333','start',g);
  lbl('0.0',x+16,1041,12,'#333','start',g);
  lbl('Shear strain',x-18,864,10,'#333','start',g);
}
(function(){
  const g=document.getElementById('pj');
  const rows=[888,946,1011];
  rows.forEach((y,k)=>{
    for(let i=0;i<12;i++){ball(312+i*15,y-14,10,'sb',g);}
    for(let i=0;i<12;i++){ball(312+i*15,y+14,10,'sb',g);}
    for(let i=0;i<7;i++){ball(310+i*28,y,15,i===6&&k===0?'sl':'sb',g);}
  });
  [[492,882,'sr'],[488,905,'sr'],[478,900,'sl'],[490,930,'sp'],[495,950,'sl'],[485,968,'sp'],[492,990,'sp'],[485,1010,'sp'],[490,1030,'sp'],[470,1020,'sl']].forEach(q=>ball(q[0],q[1],12,q[2],g));
  colorbar(g,528);
})();
(function(){
  const g=document.getElementById('pl');
  for(let r=0;r<8;r++)for(let c=0;c<8;c++){ball(845+c*22+(r%2)*6,868+r*24,12,(c>=6&&r>=2&&r<=6)?'sl':'sb',g);}
  for(let r=0;r<4;r++)for(let c=0;c<5;c++){ball(852+c*34,874+r*50,17,'sb',g);}
  colorbar(g,1027);
})();
</script>
</body></html>
